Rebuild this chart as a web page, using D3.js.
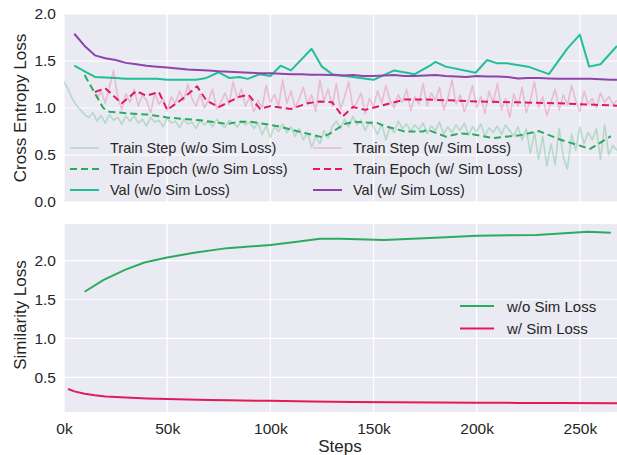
<!DOCTYPE html>
<html>
<head>
<meta charset="utf-8">
<script src="https://cdn.jsdelivr.net/npm/d3@7/dist/d3.min.js"></script>
<style>
  body { margin: 0; background: #fff; }
  text { font-family: "Liberation Sans", Arial, sans-serif; fill: #262626; }
</style>
</head>
<body>
<div id="chart"></div>
<script>
// steps are in thousands
var stepInterval = 2;

// Train Step (w/o Sim Loss), logged every 2k steps from 0
var trainStepWo = [
  1.28, 1.20, 1.10, 1.03, 0.98, 0.93,
  0.90, 0.95, 0.86, 0.92, 0.84, 0.93, 0.87, 0.90, 0.83, 0.91,
  0.86, 0.92, 0.84, 0.88, 0.81, 0.90, 0.85, 0.87, 0.80, 0.89,
  0.84, 0.86, 0.79, 0.88, 0.83, 0.85, 0.78, 0.87, 0.82, 0.86,
  0.80, 0.88, 0.83, 0.79, 0.87, 0.84, 0.80, 0.86, 0.82, 0.85,
  0.78, 0.84, 0.72, 0.81, 0.69, 0.80, 0.75, 0.83, 0.74, 0.80,
  0.70, 0.78, 0.66, 0.74, 0.58, 0.70, 0.62, 0.76, 0.68, 0.80,
  0.86, 0.78, 0.88, 0.80, 0.91, 0.82, 0.87, 0.76, 0.85, 0.80,
  0.72, 0.83, 0.66, 0.80, 0.74, 0.86, 0.78, 0.83, 0.75, 0.82,
  0.77, 0.84, 0.73, 0.81, 0.76, 0.85, 0.72, 0.80, 0.74, 0.82,
  0.76, 0.84, 0.71, 0.80, 0.75, 0.83, 0.70, 0.79, 0.74, 0.81,
  0.72, 0.82, 0.76, 0.70, 0.80, 0.66, 0.78, 0.52, 0.74, 0.45,
  0.70, 0.38, 0.62, 0.40, 0.78, 0.48, 0.35, 0.72, 0.55, 0.80,
  0.62, 0.74, 0.66, 0.78, 0.45, 0.82, 0.50, 0.60, 0.55
];

// Train Step (w/ Sim Loss), logged every 2k steps from 16k
var trainStepWStart = 16;
var trainStepW = [
  1.10, 1.18, 1.05, 1.22, 1.40, 1.12, 0.98, 1.15, 1.06, 1.20,
  1.02, 1.14, 1.08, 0.95, 1.16, 1.04, 1.10, 0.97, 1.12, 1.05,
  1.18, 1.08, 1.25, 1.10, 1.02, 1.15, 1.00, 1.08, 1.20, 0.99,
  1.06, 1.16, 1.04, 1.28, 1.10, 1.20, 1.02, 1.12, 0.96, 1.08,
  1.00, 1.24, 1.06, 1.14, 1.02, 1.30, 1.05, 1.18, 1.00, 1.10,
  1.22, 1.04, 1.14, 0.96, 1.30, 1.08, 1.20, 1.02, 1.26, 0.98,
  1.12, 1.28, 1.00, 1.06, 1.16, 0.94, 1.10, 1.02, 1.18, 1.05,
  1.24, 1.08, 1.00, 1.14, 1.06, 1.20, 0.97, 1.12, 1.04, 1.26,
  1.02, 1.16, 1.08, 1.22, 0.98, 1.10, 1.30, 1.04, 1.14, 0.96,
  1.08, 1.24, 1.00, 1.12, 0.94, 1.18, 1.05, 1.26, 0.98, 1.10,
  0.90, 1.15, 1.02, 1.22, 0.95, 1.08, 1.28, 1.00, 1.12, 0.92,
  1.06, 1.20, 0.98, 1.14, 1.03, 1.24, 1.08, 0.96, 1.18, 1.04,
  1.10, 1.00, 1.16, 1.06, 1.12, 1.04, 1.08
];

var epochWoSteps = [10, 19, 22, 30, 40, 50, 60, 66, 76, 79, 85, 90, 100, 105, 110, 125, 129, 136, 141, 147, 152, 155, 162, 165, 174, 176, 185, 192, 198, 208, 221, 230, 241, 255, 265];
var epochWo = [1.35, 1.00, 0.96, 0.945, 0.93, 0.90, 0.88, 0.87, 0.84, 0.83, 0.855, 0.855, 0.82, 0.80, 0.77, 0.69, 0.73, 0.83, 0.855, 0.845, 0.84, 0.81, 0.77, 0.75, 0.75, 0.77, 0.695, 0.73, 0.72, 0.68, 0.71, 0.755, 0.66, 0.565, 0.70];

var epochWSteps = [15, 20, 28, 35, 40, 46, 50, 57, 64.5, 69, 75, 85, 89.5, 95, 100, 110, 118, 124, 130, 135, 140, 146, 165, 176, 200, 220, 240, 268];
var epochW = [1.17, 1.21, 1.05, 1.18, 1.13, 1.17, 0.98, 1.09, 1.23, 1.08, 1.01, 1.12, 1.14, 0.99, 1.02, 0.99, 1.05, 1.07, 1.06, 0.91, 1.01, 0.98, 1.09, 1.09, 1.07, 1.06, 1.05, 1.025];

var valWoSteps = [5, 10, 15, 20, 25, 30, 35, 40, 45, 50, 55, 60, 64, 69, 75, 80, 85, 89, 95, 100, 105, 110, 120, 125, 130, 140, 150, 160, 170, 178, 180, 185, 199.5, 205, 210, 215, 225, 235, 244, 250, 254.5, 260, 268];
var valWo = [1.45, 1.39, 1.33, 1.325, 1.32, 1.31, 1.31, 1.31, 1.31, 1.30, 1.30, 1.30, 1.30, 1.32, 1.38, 1.32, 1.33, 1.31, 1.36, 1.34, 1.45, 1.40, 1.63, 1.44, 1.36, 1.33, 1.30, 1.40, 1.36, 1.46, 1.49, 1.44, 1.375, 1.51, 1.475, 1.475, 1.44, 1.36, 1.635, 1.78, 1.44, 1.465, 1.66];

var valWSteps = [5, 10, 15, 20, 25, 30, 35, 40, 45, 50, 55, 60, 65, 70, 75, 80, 85, 90, 95, 100, 105, 110, 115, 120, 125, 130, 135, 140, 145, 150, 155, 160, 165, 170, 175, 180, 185, 190, 195, 200, 205, 210, 215, 220, 225, 230, 235, 240, 245, 250, 255, 260, 265, 268];
var valW = [1.79, 1.66, 1.56, 1.53, 1.51, 1.48, 1.465, 1.45, 1.44, 1.43, 1.42, 1.41, 1.405, 1.40, 1.39, 1.385, 1.38, 1.375, 1.37, 1.37, 1.365, 1.36, 1.36, 1.355, 1.355, 1.35, 1.345, 1.35, 1.34, 1.34, 1.345, 1.35, 1.34, 1.34, 1.345, 1.35, 1.34, 1.335, 1.33, 1.34, 1.335, 1.335, 1.33, 1.315, 1.32, 1.32, 1.315, 1.31, 1.31, 1.31, 1.31, 1.305, 1.30, 1.30];

var simWoSteps = [10, 19, 29.5, 39, 50, 63, 79, 100, 111, 124, 134, 155, 182.5, 200, 229, 254, 265];
var simWo = [1.60, 1.75, 1.88, 1.975, 2.04, 2.10, 2.16, 2.20, 2.235, 2.28, 2.28, 2.265, 2.295, 2.32, 2.33, 2.37, 2.357];

var simWSteps = [2, 5, 10, 15, 20, 30, 40, 50, 60, 70, 80, 100, 120, 140, 160, 180, 200, 220, 240, 268];
var simW = [0.35, 0.32, 0.29, 0.27, 0.255, 0.24, 0.23, 0.222, 0.215, 0.21, 0.205, 0.198, 0.19, 0.183, 0.18, 0.177, 0.174, 0.172, 0.17, 0.168];

var xTicks = [0, 50, 100, 150, 200, 250];
var topYTicks = [0, 0.5, 1.0, 1.5, 2.0];
var botYTicks = [0.5, 1.0, 1.5, 2.0];

var topLegend = ['Train Step (w/o Sim Loss)', 'Train Epoch (w/o Sim Loss)', 'Val (w/o Sim Loss)',
                 'Train Step (w/ Sim Loss)', 'Train Epoch (w/ Sim Loss)', 'Val (w/ Sim Loss)'];
var botLegend = ['w/o Sim Loss', 'w/ Sim Loss'];

var green = '#2bab5e', teal = '#1fbf9c', crimson = '#e3195b', purple = '#8e44ad';

var W = 617, H = 455;
var svg = d3.select('#chart').append('svg').attr('width', W).attr('height', H);

var x = d3.scaleLinear().domain([0, 268]).range([64, 617]);
var yTop = d3.scaleLinear().domain([0, 2]).range([202, 14]);
var yBot = d3.scaleLinear().domain([0.055, 2.47]).range([412, 224]);

function panel(y, ticks, top, bottom) {
  svg.append('rect').attr('x', 64).attr('y', top).attr('width', W - 64).attr('height', bottom - top).attr('fill', '#eaeaf2');
  var g = svg.append('g');
  g.selectAll('.gx').data(xTicks).join('line')
    .attr('x1', d => x(d)).attr('x2', d => x(d)).attr('y1', top).attr('y2', bottom)
    .attr('stroke', '#fff').attr('stroke-width', 1.2);
  g.selectAll('.gy').data(ticks).join('line')
    .attr('x1', 64).attr('x2', W).attr('y1', d => y(d)).attr('y2', d => y(d))
    .attr('stroke', '#fff').attr('stroke-width', 1.2);
  var ax = svg.append('g').attr('transform', 'translate(64,0)')
    .call(d3.axisLeft(y).tickValues(ticks).tickFormat(d3.format('.1f')).tickSize(0).tickPadding(8));
  ax.select('.domain').remove();
  ax.selectAll('text').style('font-size', '15.5px').style('font-family', '"Liberation Sans", Arial, sans-serif').attr('fill', '#262626');
}

panel(yTop, topYTicks, 14, 202);
panel(yBot, botYTicks, 224, 412);

svg.append('clipPath').attr('id', 'clipTop').append('rect').attr('x', 64).attr('y', 14).attr('width', W - 64).attr('height', 188);

function line(y) { return d3.line().x(d => x(d[0])).y(d => y(d[1])); }
function zipSteps(steps, vals) { return vals.map((v, i) => [steps[i], v]); }
function zipRegular(start, vals) { return vals.map((v, i) => [start + i * stepInterval, v]); }

var gTop = svg.append('g').attr('clip-path', 'url(#clipTop)');
var topSeries = [
  { data: zipRegular(0, trainStepWo), color: green, op: 0.28, w: 1.6, dash: null },
  { data: zipSteps(epochWoSteps, epochWo), color: green, op: 1, w: 2, dash: '7,4' },
  { data: zipSteps(valWoSteps, valWo), color: teal, op: 1, w: 2, dash: null },
  { data: zipRegular(trainStepWStart, trainStepW), color: crimson, op: 0.22, w: 1.6, dash: null },
  { data: zipSteps(epochWSteps, epochW), color: crimson, op: 1, w: 2, dash: '7,4' },
  { data: zipSteps(valWSteps, valW), color: purple, op: 1, w: 2, dash: null }
];
topSeries.forEach(s => {
  gTop.append('path').datum(s.data).attr('d', line(yTop))
    .attr('fill', 'none').attr('stroke', s.color).attr('stroke-opacity', s.op)
    .attr('stroke-width', s.w).attr('stroke-dasharray', s.dash).attr('stroke-linejoin', 'round');
});

var botSeries = [
  { data: zipSteps(simWoSteps, simWo), color: green },
  { data: zipSteps(simWSteps, simW), color: crimson }
];
botSeries.forEach(s => {
  svg.append('path').datum(s.data).attr('d', line(yBot))
    .attr('fill', 'none').attr('stroke', s.color).attr('stroke-width', 2);
});

// top legend, two columns of three
topSeries.forEach((s, i) => {
  var col = Math.floor(i / 3), row = i % 3;
  var lx = col === 0 ? 70 : 313, ly = 148 + row * 21;
  svg.append('line').attr('x1', lx).attr('x2', lx + 29).attr('y1', ly).attr('y2', ly)
    .attr('stroke', s.color).attr('stroke-opacity', s.op).attr('stroke-width', s.w)
    .attr('stroke-dasharray', s.dash);
  svg.append('text').attr('x', lx + 40).attr('y', ly + 5).style('font-size', '14.5px').text(topLegend[i]);
});

// bottom legend
botSeries.forEach((s, i) => {
  var ly = 306 + i * 22.5;
  svg.append('line').attr('x1', 460).attr('x2', 494).attr('y1', ly).attr('y2', ly)
    .attr('stroke', s.color).attr('stroke-width', 2);
  svg.append('text').attr('x', 507).attr('y', ly + 5.5).style('font-size', '15px').text(botLegend[i]);
});

// x axis under bottom panel
var axB = svg.append('g').attr('transform', 'translate(0,412)')
  .call(d3.axisBottom(x).tickValues(xTicks).tickFormat(d => d + 'k').tickSize(0).tickPadding(11));
axB.select('.domain').remove();
axB.selectAll('text').style('font-size', '15.5px').style('font-family', '"Liberation Sans", Arial, sans-serif').attr('fill', '#262626');

svg.append('text').attr('x', 340).attr('y', 452).attr('text-anchor', 'middle').style('font-size', '17px').text('Steps');
svg.append('text').attr('transform', 'translate(26,108) rotate(-90)').attr('text-anchor', 'middle').style('font-size', '17px').text('Cross Entropy Loss');
svg.append('text').attr('transform', 'translate(26,315) rotate(-90)').attr('text-anchor', 'middle').style('font-size', '17px').text('Similarity Loss');
</script>
</body>
</html>
